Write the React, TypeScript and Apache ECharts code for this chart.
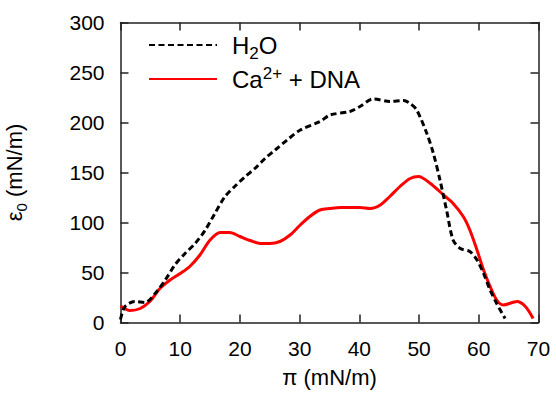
import React, { useEffect, useRef } from "react";
import * as echarts from "echarts";

const h2oX = [0, 0.75, 2.4, 4.1, 5.8, 7.5, 9.1, 10.8, 12.5, 14.2, 15.8, 17.5, 19.2, 20.9, 22.5, 24.2, 25.9, 28, 30.1, 33.4, 35.1, 38.4, 40.1, 42.3, 45.1, 47.4, 48.5, 49.6, 51.3, 52.4, 53.5, 54.6, 55.7, 56.9, 58.5, 59.7, 60.8, 61.9, 63, 64.4];
const h2oY = [3, 16, 21, 20, 29, 42.5, 57.5, 69, 79, 92.5, 109, 126, 136.5, 146, 154, 164, 172.5, 183, 192.5, 201, 207.5, 211, 216, 223.5, 221, 222, 219, 212.5, 189, 169, 142.5, 112.5, 82.5, 74, 71, 62.5, 49, 32.5, 19, 4];

const redX = [0, 1.6, 3.3, 4.9, 6.6, 8.3, 10, 11.6, 13.3, 15, 16.7, 18.3, 20, 21.7, 23.4, 25, 26.7, 28.4, 30.1, 31.7, 33.4, 35.1, 36.8, 38.4, 40.1, 41.8, 43.5, 45.1, 46.8, 48.5, 49.9, 51.9, 54.1, 55.7, 57.4, 58.5, 59.7, 60.8, 61.9, 63, 64.1, 66.4, 67.8, 69.1];
const redY = [16.5, 12, 14, 21, 34, 42.5, 49, 56, 67.5, 82.5, 90, 90, 86, 82, 79, 79, 81, 87.5, 97.5, 106, 112.5, 114, 115, 115, 115, 114, 117.5, 126, 136, 144, 146, 139, 127.5, 119, 106, 92.5, 72.5, 52.5, 36, 22.5, 17.5, 21, 16, 4];

const seriesNames = ["H2O", "Ca2+ + DNA"];
const xTicks = { min: 0, max: 70, interval: 10 };
const yTicks = { min: 0, max: 300, interval: 50 };

const FONT = "'Liberation Sans', Arial, sans-serif";
const FS = 21;
const LFS = 24;

export default function App() {
  const ref = useRef<HTMLDivElement>(null);
  useEffect(() => {
    if (!ref.current) return;
    const chart = echarts.init(ref.current, undefined, { renderer: "svg" });
    const axisLine = () => ({ show: true, onZero: false, lineStyle: { color: "#222", width: 1.5 } });
    const tick = () => ({ show: true, inside: true, length: 8, lineStyle: { color: "#222", width: 1.5 } });
    chart.setOption({
      animation: false,
      backgroundColor: "#fff",
      grid: { left: 120.5, right: 17.5, top: 22.5, bottom: 71.5, containLabel: false, outerBoundsMode: "none" },
      legend: {
        orient: "vertical",
        left: 143,
        top: 28,
        itemWidth: 68,
        itemHeight: 14,
        itemGap: 3,
        data: seriesNames,
        itemStyle: { opacity: 0 },
        textStyle: {
          fontFamily: FONT,
          fontSize: LFS,
          color: "#000",
          padding: [0, 0, 0, 10],
          rich: {
            n: { fontFamily: FONT, fontSize: LFS, color: "#000" },
            sub: { fontFamily: FONT, fontSize: 17, color: "#000", verticalAlign: "bottom", padding: [16, 0, 0, 0] },
            sup: { fontFamily: FONT, fontSize: 17, color: "#000", verticalAlign: "top", padding: [0, 0, 12, 0] },
          },
        },
        formatter: (name: string) =>
          name === "H2O" ? "{n|H}{sub|2}{n|O}" : "{n|Ca}{sup|2+}{n| + DNA}",
      },
      xAxis: [
        {
          type: "value",
          ...xTicks,
          position: "bottom",
          name: "π (mN/m)",
          nameLocation: "middle",
          nameGap: 44,
          nameTextStyle: { fontFamily: FONT, fontSize: 22, color: "#000" },
          axisLine: axisLine(),
          axisTick: tick(),
          axisLabel: { fontFamily: FONT, fontSize: FS, color: "#000", margin: 15 },
          splitLine: { show: false },
        },
        {
          type: "value",
          ...xTicks,
          position: "top",
          axisLine: axisLine(),
          axisTick: tick(),
          axisLabel: { show: false },
          splitLine: { show: false },
        },
      ],
      yAxis: [
        {
          type: "value",
          ...yTicks,
          position: "left",
          name: "{n|ε}{sub|0}{n| (mN/m)}",
          nameLocation: "middle",
          nameGap: 92,
          nameTextStyle: {
            fontFamily: FONT,
            fontSize: 22,
            color: "#000",
            rich: {
              n: { fontFamily: FONT, fontSize: 22, color: "#000" },
              sub: { fontFamily: FONT, fontSize: 15, color: "#000", verticalAlign: "bottom", padding: [14, 0, 0, 0] },
            },
          },
          axisLine: axisLine(),
          axisTick: tick(),
          axisLabel: { fontFamily: FONT, fontSize: FS, color: "#000", margin: 16 },
          splitLine: { show: false },
        },
        {
          type: "value",
          ...yTicks,
          position: "right",
          axisLine: axisLine(),
          axisTick: tick(),
          axisLabel: { show: false },
          splitLine: { show: false },
        },
      ],
      series: [
        {
          name: seriesNames[0],
          type: "line",
          xAxisIndex: 0,
          yAxisIndex: 0,
          smooth: 0.3,
          symbol: "none",
          data: h2oX.map((x, i) => [x, h2oY[i]]),
          lineStyle: { color: "#000", width: 3, type: [6, 3.5] },
          itemStyle: { color: "#000" },
          z: 3,
        },
        {
          name: seriesNames[1],
          type: "line",
          xAxisIndex: 0,
          yAxisIndex: 0,
          smooth: 0.3,
          symbol: "none",
          data: redX.map((x, i) => [x, redY[i]]),
          lineStyle: { color: "#ff0000", width: 3 },
          itemStyle: { color: "#ff0000" },
          z: 2,
        },
      ],
    });
    return () => chart.dispose();
  }, []);
  return <div ref={ref} style={{ width: 556, height: 394, position: "absolute", left: 0, top: 0 }} />;
}
